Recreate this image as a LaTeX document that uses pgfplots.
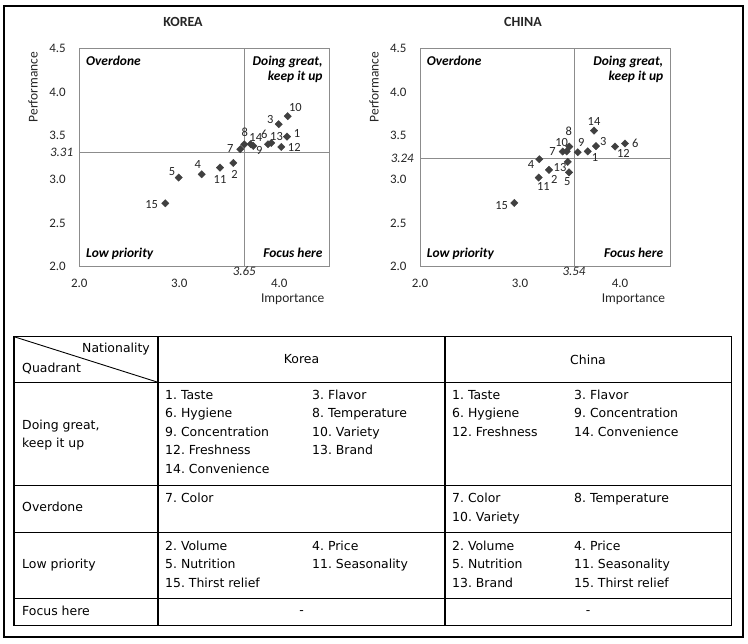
\documentclass[border=0pt]{standalone}
\usepackage{fontspec}
\setmainfont{Carlito}
\newfontfamily\tabfont{DejaVu Sans}
\usepackage{pgfplots}
\pgfplotsset{compat=1.18}

\definecolor{axgray}{HTML}{8C8C8C}
\definecolor{ptgray}{HTML}{404040}
\definecolor{txt}{HTML}{262626}

\pgfplotsset{
  ipa/.style={
    scale only axis, width=250bp, height=218.4bp,
    xmin=2, xmax=4.5, ymin=2, ymax=4.5,
    xtick={2,3,4}, ytick={2,2.5,3,3.5,4,4.5},
    major tick length=0pt,
    axis line style={axgray, line width=0.8bp},
    ticklabel style={font=\fontsize{13}{15}\selectfont, text=txt,
      /pgf/number format/fixed, /pgf/number format/fixed zerofill,
      /pgf/number format/precision=1,
      /pgf/number format/assume math mode=true},
    xticklabel style={yshift=-9bp},
    yticklabel style={xshift=-10bp},
    clip=false,
  },
  pts/.style={only marks, mark=square*, mark size=2.6,
    mark options={rotate=45, fill=ptgray, draw=ptgray}},
  lbls/.style={draw=none, mark=none, nodes near coords,
    point meta=explicit symbolic,
    every node near coord/.append style={anchor=center, inner sep=0pt,
      font=\fontsize{12.5}{14}\selectfont, text=txt}},
}

\begin{document}
\begin{tikzpicture}[x=1bp,y=1bp]
\useasboundingbox (0,0) rectangle (748,644);
\fill[white] (0,0) rectangle (748,644);
\draw[black, line width=1.6bp] (4,7) rectangle (743,638);

% ---- Korea
\begin{axis}[ipa, at={(79.3bp,377.3bp)}, anchor=south west]
\addplot[axgray, line width=0.8bp] coordinates {(3.65,2) (3.65,4.5)};
\addplot[axgray, line width=0.8bp] coordinates {(2,3.31) (4.5,3.31)};
% importance, performance
\addplot[pts] coordinates {
 (2.860,2.726) (2.994,3.020) (3.224,3.058) (3.407,3.134) (3.540,3.188)
 (3.610,3.345) (3.650,3.400) (3.714,3.402) (3.740,3.383) (3.887,3.402)
 (3.920,3.417) (4.020,3.371) (4.077,3.489) (3.994,3.631) (4.084,3.723)};
% item numbers beside the points
\addplot[lbls] coordinates {
 (2.724,2.707) [15] (2.927,3.089) [5] (3.184,3.165) [4] (3.407,2.993) [11]
 (3.553,3.051) [2] (3.510,3.353) [7] (3.655,3.540) [8] (3.765,3.475) [14]
 (3.800,3.333) [9] (3.850,3.520) [6] (3.972,3.489) [13] (4.150,3.360) [12]
 (4.177,3.527) [1] (3.911,3.680) [3] (4.161,3.818) [10]};
\end{axis}

% ---- China
\begin{axis}[ipa, at={(420bp,377.3bp)}, anchor=south west]
\addplot[axgray, line width=0.8bp] coordinates {(3.54,2) (3.54,4.5)};
\addplot[axgray, line width=0.8bp] coordinates {(2,3.24) (4.5,3.24)};
\addplot[pts] coordinates {
 (2.943,2.730) (3.193,3.230) (3.187,3.020) (3.290,3.108) (3.477,3.200)
 (3.490,3.080) (3.427,3.318) (3.467,3.320) (3.493,3.375) (3.577,3.310)
 (3.677,3.320) (3.760,3.380) (3.740,3.558) (3.950,3.375) (4.050,3.410)};
\addplot[lbls] coordinates {
 (2.816,2.704) [15] (3.110,3.165) [4] (3.234,2.913) [11] (3.343,3.001) [2]
 (3.400,3.131) [13] (3.473,2.969) [5] (3.325,3.322) [7] (3.417,3.420) [10]
 (3.487,3.550) [8] (3.613,3.425) [9] (3.750,3.248) [1] (3.833,3.437) [3]
 (3.740,3.666) [14] (4.033,3.299) [12] (4.153,3.410) [6]};
\end{axis}

% chart texts
\begin{scope}[every node/.style={inner sep=0pt, text=txt, font=\fontsize{13.5}{15}\selectfont}]
\node[font=\fontsize{14}{16}\selectfont\bfseries] at (183,622.3) {KOREA};
\node[font=\fontsize{14}{16}\selectfont\bfseries] at (523,622.3) {CHINA};
\node[rotate=90] at (33,557) {Performance};
\node[rotate=90] at (374,557) {Performance};
\node at (292.7,344.7) {Importance};
\node at (633.4,344.7) {Importance};
\node[anchor=east, font=\fontsize{13}{15}\selectfont\itshape] at (73.3,491.7) {3.31};
\node[anchor=east, font=\fontsize{13}{15}\selectfont\itshape] at (414,485.5) {3.24};
\node[anchor=north, font=\fontsize{13}{15}\selectfont\itshape] at (244.3,377) {3.65};
\node[anchor=north, font=\fontsize{13}{15}\selectfont\itshape] at (574,377) {3.54};
\foreach \sh in {0,340.7} {
  \node[anchor=mid west, font=\fontsize{13.5}{15}\selectfont\itshape\bfseries, text=black] at (86+\sh,581.3) {Overdone};
  \node[anchor=mid east, font=\fontsize{13.5}{15}\selectfont\itshape\bfseries, text=black] at (322.7+\sh,581.3) {Doing great,};
  \node[anchor=mid east, font=\fontsize{13.5}{15}\selectfont\itshape\bfseries, text=black] at (322.7+\sh,565.7) {keep it up};
  \node[anchor=mid west, font=\fontsize{13.5}{15}\selectfont\itshape\bfseries, text=black] at (86+\sh,389) {Low priority};
  \node[anchor=mid east, font=\fontsize{13.5}{15}\selectfont\itshape\bfseries, text=black] at (322.7+\sh,389) {Focus here};
}
\end{scope}

% ---- table
\draw[black, line width=1.1bp] (14,18.3) rectangle (731.7,307.3);
\draw[black, line width=1.1bp] (14,261.7) -- (731.7,261.7)
  (14,158.3) -- (731.7,158.3) (14,111.7) -- (731.7,111.7)
  (14,45.7) -- (731.7,45.7) (158,18.3) -- (158,307.3) (445,18.3) -- (445,307.3);
\draw[black, line width=0.9bp] (14,307.3) -- (158,261.7);

\begin{scope}[every node/.style={inner sep=0pt, font=\tabfont\fontsize{12.5}{14}\selectfont}]
\node[anchor=mid east] at (150,294) {Nationality};
\node[anchor=mid west] at (22,274) {Quadrant};
\node at (301.5,284.5) {Korea};
\node at (588,284.5) {China};
\node[anchor=mid west] at (22,217) {Doing great,};
\node[anchor=mid west] at (22,199) {keep it up};
\node[anchor=mid west] at (22,135) {Overdone};
\node[anchor=mid west] at (22,77.5) {Low priority};
\node[anchor=mid west] at (22,31) {Focus here};
% Korea
\node[anchor=mid west] at (165,247) {1.\ Taste};
\node[anchor=mid west] at (165,228.5) {6.\ Hygiene};
\node[anchor=mid west] at (165,210) {9.\ Concentration};
\node[anchor=mid west] at (165,191.5) {12.\ Freshness};
\node[anchor=mid west] at (165,173) {14.\ Convenience};
\node[anchor=mid west] at (312,247) {3.\ Flavor};
\node[anchor=mid west] at (312,228.5) {8.\ Temperature};
\node[anchor=mid west] at (312,210) {10.\ Variety};
\node[anchor=mid west] at (312,191.5) {13.\ Brand};
\node[anchor=mid west] at (165,144) {7.\ Color};
\node[anchor=mid west] at (165,96) {2.\ Volume};
\node[anchor=mid west] at (312,96) {4.\ Price};
\node[anchor=mid west] at (165,77.5) {5.\ Nutrition};
\node[anchor=mid west] at (312,77.5) {11.\ Seasonality};
\node[anchor=mid west] at (165,59) {15.\ Thirst relief};
\node at (301.5,31) {-};
% China
\node[anchor=mid west] at (452,247) {1.\ Taste};
\node[anchor=mid west] at (452,228.5) {6.\ Hygiene};
\node[anchor=mid west] at (452,210) {12.\ Freshness};
\node[anchor=mid west] at (574,247) {3.\ Flavor};
\node[anchor=mid west] at (574,228.5) {9.\ Concentration};
\node[anchor=mid west] at (574,210) {14.\ Convenience};
\node[anchor=mid west] at (452,144) {7.\ Color};
\node[anchor=mid west] at (574,144) {8.\ Temperature};
\node[anchor=mid west] at (452,125) {10.\ Variety};
\node[anchor=mid west] at (452,96) {2.\ Volume};
\node[anchor=mid west] at (574,96) {4.\ Price};
\node[anchor=mid west] at (452,77.5) {5.\ Nutrition};
\node[anchor=mid west] at (574,77.5) {11.\ Seasonality};
\node[anchor=mid west] at (452,59) {13.\ Brand};
\node[anchor=mid west] at (574,59) {15.\ Thirst relief};
\node at (588,31) {-};
\end{scope}
\end{tikzpicture}
\end{document}
